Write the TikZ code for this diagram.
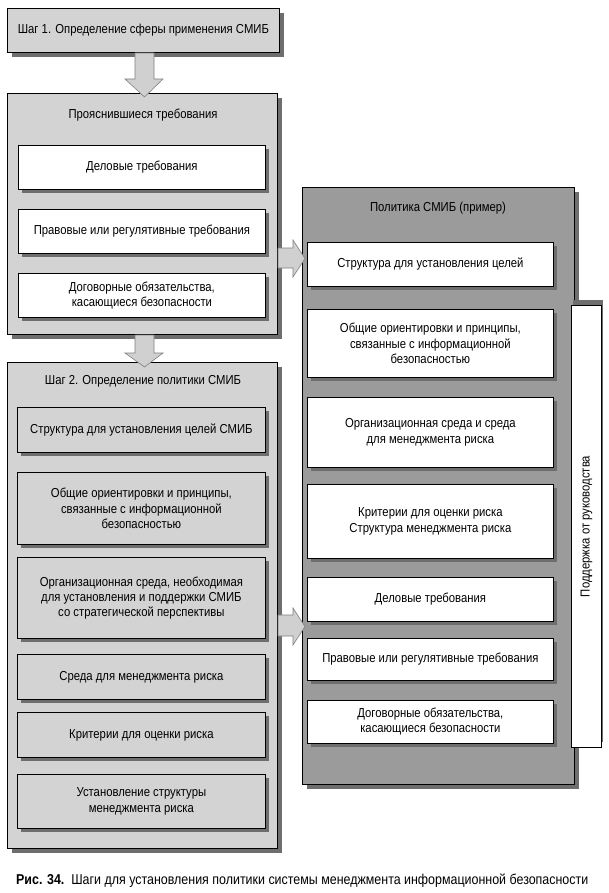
\documentclass[tikz,border=0pt]{standalone}
\usepackage{fontspec}
\setmainfont[FakeStretch=0.87]{Liberation Sans}
\usetikzlibrary{shadows,calc}
\definecolor{lg}{HTML}{D3D3D3}
\definecolor{mg}{HTML}{9B9B9B}
\definecolor{sg}{HTML}{6E6E6E}
\definecolor{ag}{HTML}{D0D0D0}
\definecolor{ao}{HTML}{808080}
\begin{document}
\begin{tikzpicture}[x=1pt,y=-1pt,
  font=\fontsize{13}{15.2}\selectfont,
  box/.style={draw=black, line width=0.8pt, inner sep=0pt, align=center, anchor=north west},
  bigshadow/.style={drop shadow={opacity=1, fill=sg, shadow xshift=5pt, shadow yshift=-5pt}},
  smallshadow/.style={drop shadow={opacity=1, fill=sg, shadow xshift=3.5pt, shadow yshift=-3.5pt}},
  outer/.style={box, fill=lg, bigshadow},
  polbox/.style={box, fill=mg, bigshadow},
  wbox/.style={box, fill=white, smallshadow, minimum width=247pt},
  gbox/.style={box, fill=lg, smallshadow, minimum width=248pt},
  qbox/.style={box, fill=white, smallshadow, minimum width=246pt},
  ttl/.style={inner sep=0pt, anchor=center},
  blockarrow/.style={fill=ag, draw=ao, line width=0.6pt, line join=miter}
]
\useasboundingbox (0,0) rectangle (609,893);
% step 1
\node[outer, minimum width=272pt, minimum height=44pt] (s1) at (7,8) {Шаг 1. Определение сферы применения СМИБ};
% requirements
\node[outer, minimum width=270pt, minimum height=241pt] (req) at (7,93) {};
\node[ttl] (reqt) at (143,115) {Прояснившиеся требования};
\node[wbox, minimum height=44pt] (r1) at (18,145) {Деловые требования};
\node[wbox, minimum height=44pt] (r2) at (18,209) {Правовые или регулятивные требования};
\node[wbox, minimum height=44pt] (r3) at (18,273) {Договорные обязательства,\\касающиеся безопасности};
% step 2
\node[outer, minimum width=270pt, minimum height=486pt] (s2) at (7,362) {};
\node[ttl] (s2t) at (143,381) {Шаг 2. Определение политики СМИБ};
\node[gbox, minimum height=45pt] (p1) at (17,407) {Структура для установления целей СМИБ};
\node[gbox, minimum height=72pt] (p2) at (17,472) {Общие ориентировки и принципы,\\связанные с информационной\\безопасностью};
\node[gbox, minimum height=81pt] (p3) at (17,557) {Организационная среда, необходимая\\для установления и поддержки СМИБ\\со стратегической перспективы};
\node[gbox, minimum height=45pt] (p4) at (17,654) {Среда для менеджмента риска};
\node[gbox, minimum height=45pt] (p5) at (17,712) {Критерии для оценки риска};
\node[gbox, minimum height=54pt] (p6) at (17,774) {Установление структуры\\менеджмента риска};
% policy
\node[polbox, minimum width=272pt, minimum height=597pt] (pol) at (302,187) {};
\node[ttl] (polt) at (438,208) {Политика СМИБ (пример)};
\node[qbox, minimum height=44pt] (q1) at (307,242) {Структура для установления целей};
\node[qbox, minimum height=68pt] (q2) at (307,309) {Общие ориентировки и принципы,\\связанные с информационной\\безопасностью};
\node[qbox, minimum height=70pt] (q3) at (307,397) {Организационная среда и среда\\для менеджмента риска};
\node[qbox, minimum height=74pt] (q4) at (307,484) {Критерии для оценки риска\\Структура менеджмента риска};
\node[qbox, minimum height=44pt] (q5) at (307,577) {Деловые требования};
\node[qbox, minimum height=42pt] (q6) at (307,638) {Правовые или регулятивные требования};
\node[qbox, minimum height=43pt] (q7) at (307,700) {Договорные обязательства,\\касающиеся безопасности};
% management support
\node[box, fill=white, drop shadow={opacity=1, fill=sg, shadow xshift=2pt, shadow yshift=5pt}, minimum width=30pt, minimum height=442pt] (side) at (571,305) {};
\node[ttl, rotate=90] (sidet) at (side.center) {Поддержка от руководства};
% block arrows
\draw[blockarrow] (135,53) -- (154,53) -- (154,79) -- (163,79) -- (144.5,97) -- (125,79) -- (135,79) -- cycle;
\draw[blockarrow] (135,335) -- (154,335) -- (154,353) -- (163,353) -- (144.5,367) -- (125,353) -- (135,353) -- cycle;
\draw[blockarrow] (278,248) -- (293,248) -- (293,240) -- (305,258.5) -- (293,277) -- (293,268) -- (278,268) -- cycle;
\draw[blockarrow] (278,615) -- (293,615) -- (293,608) -- (305,626.5) -- (293,645) -- (293,636) -- (278,636) -- cycle;
% caption
\node[inner sep=0pt, anchor=west, font=\fontsize{14.3}{16}\selectfont] (cap) at (16,881) {\textbf{Рис. 34.}\ \ Шаги для установления политики системы менеджмента информационной безопасности};
\end{tikzpicture}
\end{document}
